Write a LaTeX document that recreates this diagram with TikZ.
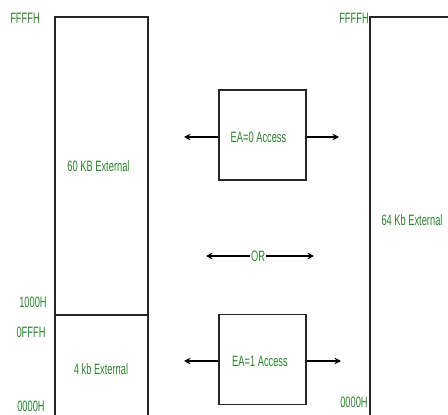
\documentclass[tikz,border=0pt]{standalone}
\usepackage{fontspec}
\setmainfont[FakeStretch=0.62]{Liberation Sans}
\usetikzlibrary{arrows.meta}
\definecolor{lblgreen}{RGB}{45,130,45}
\begin{document}
\begin{tikzpicture}[x=1pt,y=-1pt,
  wall/.style={draw=black!85,line width=1.2pt},
  lbl/.style={text=lblgreen,font=\fontsize{15}{17}\selectfont,inner sep=0pt},
  accbox/.style={draw=black!85,line width=1.2pt,minimum width=87pt,minimum height=90pt,inner sep=0pt},
  arr/.style={draw=black,line width=1.2pt,-{Stealth[length=6.5pt,width=6.5pt]}}]
\useasboundingbox (0,0) rectangle (448,415);
% left memory column
\coordinate (lbl) at (55,415);
\coordinate (ltl) at (55,17);
\coordinate (ltr) at (148,17);
\coordinate (lbr) at (148,415);
\draw[wall] (lbl) -- (ltl) -- (ltr) -- (lbr);
\coordinate (dl) at (55,315);
\coordinate (dr) at (148,315);
\draw[wall] (dl) -- (dr);
\node[lbl] (t1) at (25,18.5) {FFFFH};
\node[lbl] (t2) at (33,302) {1000H};
\node[lbl] (t3) at (31,332.5) {0FFFH};
\node[lbl] (t4) at (31,406) {0000H};
\node[lbl] (m60) at (98.5,166) {60 KB External};
\node[lbl] (m4) at (101,369) {4 kb External};
% right memory column
\coordinate (rb) at (370,415);
\coordinate (rt) at (370,17);
\coordinate (rr) at (448,17);
\draw[wall] (rb) -- (rt) -- (rr);
\node[lbl] (t5) at (354,18.5) {FFFFH};
\node[lbl] (t6) at (354,402.5) {0000H};
\node[lbl] (m64) at (412,220) {64 Kb External};
% access boxes
\node[accbox] (ea0) at (262.5,135) {};
\node[lbl] at (258.5,137.5) {EA=0 Access};
\node[accbox] (ea1) at (262.5,359.5) {};
\node[lbl] at (260,361) {EA=1 Access};
\coordinate (a0l) at (184,137);
\coordinate (a0r) at (339,137);
\coordinate (a1l) at (184,361);
\coordinate (a1r) at (341,361);
\draw[arr] (ea0.west |- a0l) -- (a0l);
\draw[arr] (ea0.east |- a0r) -- (a0r);
\draw[arr] (ea1.west |- a1l) -- (a1l);
\draw[arr] (ea1.east |- a1r) -- (a1r);
% OR
\node[lbl,fill=white,inner sep=0.5pt] (or) at (258,256) {OR};
\coordinate (orl) at (206,256);
\coordinate (orr) at (314,256);
\draw[arr] (or.west) -- (orl);
\draw[arr] (or.east) -- (orr);
\end{tikzpicture}
\end{document}
